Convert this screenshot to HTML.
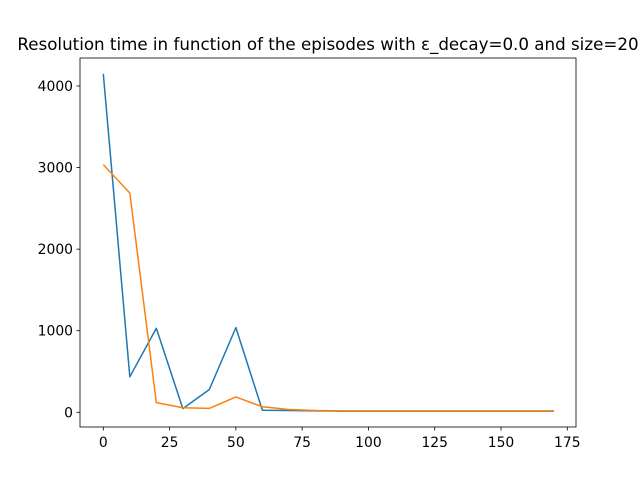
<!DOCTYPE html>
<html><head><meta charset="utf-8"><style>
body{margin:0;background:#fff}
svg text{font-family:"DejaVu Sans","Liberation Sans",sans-serif;font-size:13.9px;fill:#000}
</style></head><body>
<svg id="chart" width="640" height="480" xmlns="http://www.w3.org/2000/svg">
<rect width="640" height="480" fill="#fff"/>
<text x="328" y="50" text-anchor="middle" style="font-size:16.7px">Resolution time in function of the episodes with ε_decay=0.0 and size=20</text>
<g id="plot"></g>
</svg>
<script>
const episodes=[0,10,20,30,40,50,60,70,80,90,100,110,120,130,140,150,160,170];
const blueValues=[4150,435,1030,45,280,1038,25,22,18,15,15,15,15,15,15,15,15,15];
const orangeValues=[3036,2688,118,56,48,188,68,35,22,18,18,18,18,18,18,18,18,18];
const xTicks=[0,25,50,75,100,125,150,175];
const yTicks=[0,1000,2000,3000,4000];
const ns="http://www.w3.org/2000/svg";
const L=80,R=576,T=58,B=427;
function xs(v){return 103.3+v*(567.3-103.3)/175;}
function ys(v){return 412.3-v*(412.3-86)/4000;}
const g=document.getElementById('plot');
function mk(t,a){const e=document.createElementNS(ns,t);for(const k in a)e.setAttribute(k,a[k]);g.appendChild(e);return e;}
function line(vals,color,name){
  const p=mk('polyline',{points:vals.map((v,i)=>xs(episodes[i])+','+ys(v)).join(' '),fill:'none',stroke:color,'stroke-width':1.5,'stroke-linejoin':'round'});
  
  
}
line(blueValues,'#1f77b4','series-blue');
line(orangeValues,'#ff7f0e','series-orange');
const frame=mk('rect',{x:L,y:T,width:R-L,height:B-T,fill:'none',stroke:'#000','stroke-width':0.8});


xTicks.forEach(t=>{
  const x=xs(t);
  mk('line',{x1:x,x2:x,y1:B,y2:B+3.5,stroke:'#000','stroke-width':0.8});
  const tx=mk('text',{x:x,y:B+20,'text-anchor':'middle'});tx.textContent=t;
  
  
});
yTicks.forEach(t=>{
  const y=ys(t);
  mk('line',{x1:L-3.5,x2:L,y1:y,y2:y,stroke:'#000','stroke-width':0.8});
  const tx=mk('text',{x:L-7,y:y+5,'text-anchor':'end'});tx.textContent=t;
  
  
});
</script>
</body></html>
